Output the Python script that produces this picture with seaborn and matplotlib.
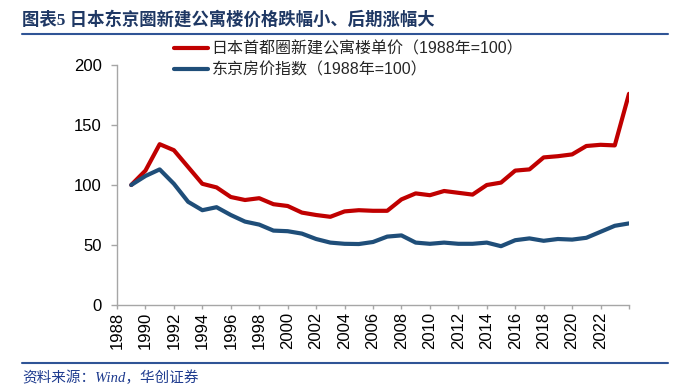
import matplotlib
matplotlib.use("Agg")
import matplotlib.pyplot as plt
import seaborn as sns
import pandas as pd
from matplotlib.lines import Line2D

# ---------------- data ----------------
years = list(range(1988, 2024))
condo_price = [100, 112, 134, 129, 115, 101, 98, 90, 87.5, 89, 84, 82.5,
               77, 75, 73.5, 78, 79, 78.5, 78.5, 88, 93, 91.5, 95, 93.5,
               92, 100, 102, 112, 113, 123, 124, 125.5, 132.5, 133.5, 133, 176]
tokyo_index = [100, 107.5, 113, 101, 86, 79, 81.5, 75, 69.5, 67, 62, 61.5,
               59.5, 55, 52, 51, 50.8, 52.5, 57, 58, 52, 51, 52, 51,
               51, 52, 49, 54, 55.5, 53.5, 55, 54.5, 56, 61, 66, 68]
series_names = ["日本首都圈新建公寓楼单价（1988年=100）", "东京房价指数（1988年=100）"]
xtick_years = list(range(1988, 2025, 2))
xtick_labels = [str(y) if y <= 2022 else "" for y in xtick_years]
ytick_values = [0, 50, 100, 150, 200]
title = "图表5 日本东京圈新建公寓楼价格跌幅小、后期涨幅大"
source = "资料来源：Wind，华创证券"

sns.set_theme(style="white")
plt.rcParams['font.family'] = ['Liberation Sans', 'Noto Sans CJK SC']

# Excel date axis: annual values are placed at the end of each year
df = pd.DataFrame({
    "x": [y + 1 for y in years] * 2,
    "value": condo_price + tokyo_index,
    "series": [series_names[0]] * len(years) + [series_names[1]] * len(years),
})

W, H = 691, 386
fig = plt.figure(figsize=(W / 100, H / 100), dpi=100)
ax = fig.add_axes([117 / W, 1 - 305 / H, (629 - 117) / W, 240 / H])

sns.lineplot(data=df, x="x", y="value", hue="series", hue_order=series_names,
             palette=["#C00000", "#1F4E79"], linewidth=3, ax=ax, sort=False,
             solid_capstyle="round", solid_joinstyle="round")

ax.set_xlim(1988, 2024)
ax.set_ylim(0, 200)
ax.set_xticks(xtick_years)
ax.set_xticklabels(xtick_labels, rotation=90)
ax.set_yticks(ytick_values)
ax.set_xlabel("")
ax.set_ylabel("")
sns.despine(ax=ax)
for s in ("left", "bottom"):
    ax.spines[s].set_color("#A6A6A6")
    ax.spines[s].set_linewidth(1)
ax.tick_params(axis="x", length=3, width=1, color="#A6A6A6", pad=2,
               labelsize=12, labelcolor="black", bottom=True)
ax.tick_params(axis="y", length=4, width=1, color="#A6A6A6", pad=7,
               labelsize=12, labelcolor="black", left=True)

handles, labels = ax.get_legend_handles_labels()
ax.legend(handles, labels, loc="upper left",
          bbox_to_anchor=(174 / W, 1 - 41 / H), bbox_transform=fig.transFigure,
          frameon=False, fontsize=11.5, handlelength=2.1, handletextpad=0.25,
          labelspacing=0.4, borderpad=0, borderaxespad=0)

fig.text(22 / W, 1 - 20 / H, title, fontsize=12.5, fontweight="bold",
         color="#1F3864", va="center", ha="left",
         family=["Liberation Serif", "Noto Sans CJK SC"])
fig.add_artist(Line2D([22 / W, 668 / W], [1 - 34 / H] * 2, color="#2F5496",
                      linewidth=1.5, transform=fig.transFigure))
fig.add_artist(Line2D([22 / W, 668 / W], [1 - 363 / H] * 2, color="#2F5496",
                      linewidth=1.5, transform=fig.transFigure))
fig.text(22 / W, 1 - 377.5 / H, source, fontsize=10.5, style="italic",
         color="#1F3C8F", va="center", ha="left",
         family=["Liberation Serif", "Noto Sans CJK SC"])

fig.savefig("out.png", dpi=100)
